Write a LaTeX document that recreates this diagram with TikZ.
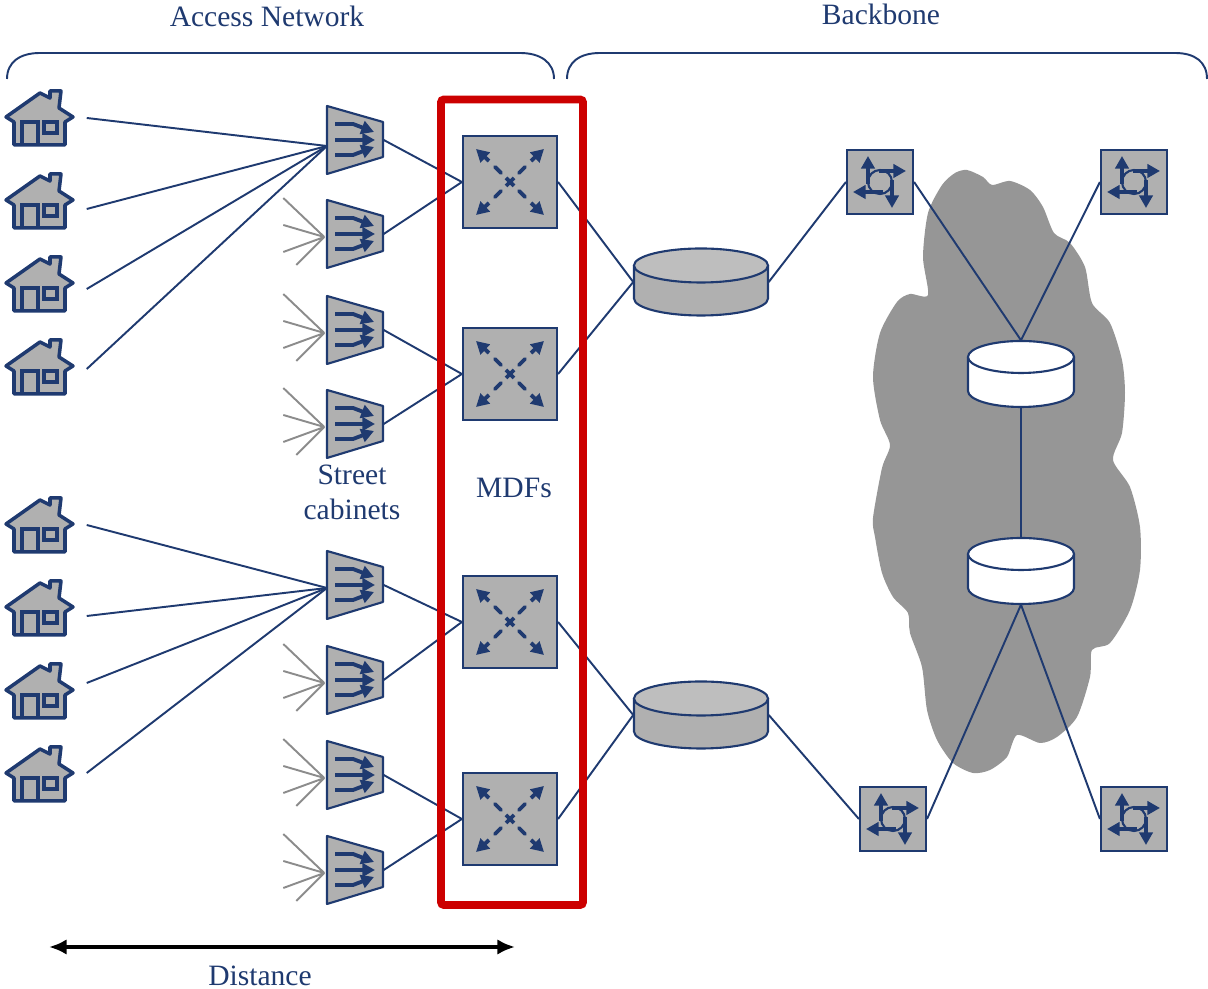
\documentclass[tikz,border=0pt]{standalone}
\usepackage{fontspec}
\setmainfont{Liberation Serif}
\usepackage{xcolor}
\usetikzlibrary{arrows.meta}
\definecolor{netblue}{HTML}{1F3A70}
\definecolor{boxgrey}{HTML}{B0B0B0}
\definecolor{topgrey}{HTML}{BEBEBE}
\definecolor{cloudgrey}{HTML}{969696}
\definecolor{fangrey}{HTML}{8C8C8C}
\definecolor{mdfred}{HTML}{CC0000}
\newcommand{\drumshape}[5]{% rx, ry, height, body fill, top fill
  \draw[color=netblue, fill=#4, line width=0.6pt, line join=round]
    (-#1,-#3/2) -- (-#1,#3/2) arc[start angle=180, end angle=0, x radius=#1, y radius=#2] -- (#1,-#3/2) -- cycle;
  \draw[color=netblue, fill=#5, line width=0.6pt] (0,-#3/2) ellipse[x radius=#1, y radius=#2];
}
\tikzset{
  link/.style={color=netblue, line width=0.55pt},
  fanline/.style={color=fangrey, line width=0.55pt},
  label/.style={text=netblue, font=\fontsize{8.4}{10}\selectfont, align=center},
  housebox/.style={inner sep=0pt, minimum width=0.92cm, minimum height=0.5cm},
  cabbox/.style={inner sep=0pt, minimum width=0.56cm, minimum height=0.34cm},
  mdfbox/.style={draw=netblue, fill=boxgrey, line width=0.6pt, inner sep=0pt, minimum width=0.94cm, minimum height=0.92cm},
  routerbox/.style={draw=netblue, fill=boxgrey, line width=0.6pt, inner sep=0pt, minimum width=0.66cm, minimum height=0.64cm},
  bigbox/.style={inner sep=0pt, minimum width=1.34cm, minimum height=0.67cm},
  whitebox/.style={inner sep=0pt, minimum width=1.06cm, minimum height=0.66cm},
  bluearrow/.style={color=netblue, line width=1.1pt, -{Triangle[length=3.6pt, width=3.8pt]}},
  house/.pic={
    \draw[color=netblue, fill=boxgrey, line width=1pt, line join=round]
      (0,-25) -- (10,-20) -- (10,-27) -- (21,-27) -- (19,-10) -- (33,-1) -- (25,4)
      -- (25,27) -- (-26,27) -- (-26,4) -- (-34,-1) -- cycle;
    \draw[color=netblue, line width=1pt] (-18,27) -- (-18,4) -- (-2,4) -- (-2,27);
    \draw[color=netblue, line width=1pt] (4,4) rectangle (17,15);
  },
  cabinet/.pic={
    \draw[color=netblue, fill=boxgrey, line width=0.6pt, line join=round]
      (-28,-34) -- (28,-18) -- (28,17) -- (-28,34) -- cycle;
    \draw[bluearrow] (-20,-16) -- (-2,-16) -- (19,-8);
    \draw[bluearrow] (-20,0) -- (20,0);
    \draw[bluearrow] (-20,15) -- (-2,15) -- (19,7);
  },
  mdfcross/.pic={
    \draw[color=netblue, line width=1.1pt] (-4,-4) -- (4,4) (-4,4) -- (4,-4);
    \foreach \sx/\sy in {1/1,1/-1,-1/1,-1/-1} {
      \draw[color=netblue, line width=1.1pt, line cap=round] (\sx*9,\sy*9) -- (\sx*15,\sy*15);
      \draw[bluearrow] (\sx*21,\sy*21) -- (\sx*34,\sy*33);
    }
  },
  routerarrows/.pic={
    \draw[color=netblue, line width=0.6pt] (0,0) circle (12);
    \draw[bluearrow] (-12,2) -- (-12,-26);
    \draw[bluearrow] (-1,-11) -- (26,-11);
    \draw[bluearrow] (12,-2) -- (12,26);
    \draw[bluearrow] (3,10) -- (-27,10);
  },
  bigdrum/.pic={\drumshape{67}{17}{33}{boxgrey}{topgrey}},
  whitedrum/.pic={\drumshape{53}{16}{34}{white}{white}}
}

\begin{document}
\begin{tikzpicture}[x=0.01cm, y=-0.01cm]
\useasboundingbox (0,0) rectangle (1208,989);

% cloud behind the backbone
\fill[cloudgrey] plot[smooth cycle, tension=0.45] coordinates {
  (967,170) (983,177) (992,185) (1010,181) (1030,190) (1043,207) (1054,233)
  (1070,243) (1085,267) (1092,303) (1110,323) (1122,360) (1125,393) (1122,433)
  (1113,460) (1130,487) (1140,527) (1140,570) (1130,610) (1110,643) (1092,650)
  (1090,677) (1077,717) (1057,737) (1040,743) (1017,735) (1007,757) (990,770)
  (973,773) (953,763) (937,740) (927,710) (922,667) (910,633) (908,613) (893,597)
  (882,573) (875,537) (873,518) (882,468) (890,445) (880,420) (873,377) (880,333)
  (897,302) (910,294) (928,295) (923,257) (928,213) (942,185) (955,173)};

% houses
\foreach \i/\y in {1/118,2/201,3/284,4/367,5/525,6/608,7/691,8/774} {
  \node[housebox] (house\i) at (40,\y) {};
  \pic at (house\i) {house};
}

% street cabinets
\foreach \i/\y in {1/140,2/234,3/330,4/424,5/585,6/680,7/775,8/870} {
  \node[cabbox] (cab\i) at (355,\y) {};
  \pic at (cab\i) {cabinet};
}
\coordinate (fanA) at (327,146);
\coordinate (fanB) at (327,588);

% MDF boxes
\foreach \i/\y in {1/182,2/374,3/622,4/819} {
  \node[mdfbox] (mdf\i) at (510,\y) {};
  \pic at (mdf\i) {mdfcross};
}

% aggregation drums
\node[bigbox] (agg1) at (701,282) {};
\pic at (agg1) {bigdrum};
\node[bigbox] (agg2) at (701,715) {};
\pic at (agg2) {bigdrum};
\node[whitebox] (core1) at (1021,374) {};
\pic at (core1) {whitedrum};
\node[whitebox] (core2) at (1021,571) {};
\pic at (core2) {whitedrum};

% routers
\foreach \i/\x/\y in {1/880/182,2/1134/182,3/893/819,4/1134/819} {
  \node[routerbox] (router\i) at (\x,\y) {};
  \pic at (router\i) {routerarrows};
}

% houses to cabinets
\foreach \i/\d in {1/0,2/8,3/5,4/2} \draw[link] (house\i.east) ++(0,\d) -- (fanA);
\foreach \i/\d in {5/0,6/8,7/-8,8/-1} \draw[link] (house\i.east) ++(0,\d) -- (fanB);

% other subscribers
\foreach \i in {2,3,4,6,7,8} {
  \draw[fanline] (cab\i.west) ++(-2,3) coordinate (tip) -- ++(-41,-39)
    (tip) -- ++(-41,-12) (tip) -- ++(-41,15) (tip) -- ++(-28,28);
}

% cabinets to MDFs
\foreach \c/\m in {1/1,2/1,3/2,4/2,5/3,6/3,7/4,8/4} \draw[link] (cab\c.east) -- (mdf\m.west);

% MDFs to drums, drums to routers
\foreach \m/\a in {1/1,2/1,3/2,4/2} \draw[link] (mdf\m.east) -- (agg\a.west);
\draw[link] (agg1.east) -- (router1.west);
\draw[link] (agg2.east) -- (router3.west);

% backbone
\draw[link] (router1.east) -- (core1.north);
\draw[link] (router2.west) -- (core1.north);
\draw[link] (core1.south) -- (core2.north);
\draw[link] (core2.south) -- (router3.east);
\draw[link] (core2.south) -- (router4.west);

% the MDF frame
\draw[color=mdfred, line width=2.2pt, rounded corners=0.8pt] (441,99.5) rectangle (583,905);

% braces
\draw[link] (7,79) .. controls (7,62) and (20,53) .. (40,53) -- (520,53) .. controls (540,53) and (554,62) .. (554,79);
\draw[link] (567,79) .. controls (567,62) and (580,53) .. (600,53) -- (1175,53) .. controls (1195,53) and (1207,62) .. (1207,79);

% distance
\coordinate (distA) at (49,947);
\coordinate (distB) at (515,947);
\draw[{Latex[length=5pt, width=4.4pt]}-{Latex[length=5pt, width=4.4pt]}, line width=1pt] (distA) -- (distB);

\node[label] (access) at (267,16) {Access Network};
\node[label] (backbone) at (881,14) {Backbone};
\node[label] (street) at (352,492) {Street\\cabinets};
\node[label] (mdfs) at (514,488) {MDFs};
\node[label] (distance) at (260,976) {Distance};
\end{tikzpicture}
\end{document}
